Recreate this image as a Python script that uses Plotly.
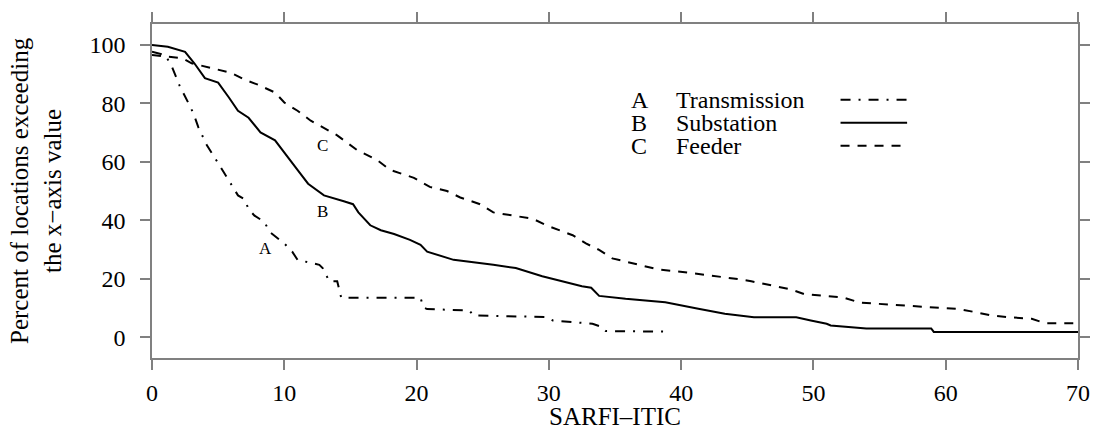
import plotly.graph_objects as go

# SARFI-ITIC exceedance curves for three monitoring levels
trans_x = [0, 1, 1.5, 1.8, 2.1, 2.8, 3.15, 3.5, 4.15, 5, 5.8, 6.5, 7, 7.3, 7.75, 8.5,
           8.9, 10, 10.6, 11, 12.65, 12.9, 13.4, 14, 14.3, 20.3, 20.5, 20.8, 24, 24.3,
           29.8, 30.3, 33.3, 34, 34.3, 38.9]
trans_y = [97.5, 96.4, 92.5, 89, 85.8, 79.6, 76.3, 71.8, 65.6, 59.5, 53.5, 48.5, 47.2,
           43.8, 41.6, 39.4, 36, 32.1, 29.3, 26.5, 24.8, 23.7, 19.2, 19.2, 13.6, 13.6,
           10.3, 9.7, 9.2, 7.5, 7.0, 5.8, 4.7, 3.6, 2.2, 2.0]

subst_x = [0, 1.2, 2.5, 3.2, 4.0, 5.0, 5.8, 6.5, 7.3, 8.2, 9.3, 10, 11, 11.8, 13, 14.5,
           15.2, 15.6, 16.5, 17.3, 18.3, 19.5, 20.3, 20.8, 21.5, 22.8, 25.8, 27.5, 29.5,
           31.0, 32.5, 33.2, 33.8, 35.8, 38.8, 41.3, 43.3, 45.5, 48.7, 49.8, 51.0, 51.3,
           52.8, 54, 58.9, 59.1, 70]
subst_y = [99.8, 99.2, 97.5, 93.6, 88.5, 87, 82, 77.4, 75, 70, 67.3, 63, 57.2, 52.5,
           48.5, 46.5, 45.5, 42.7, 38.3, 36.6, 35.3, 33.3, 31.6, 29.3, 28.3, 26.5, 24.8,
           23.7, 20.9, 19.2, 17.5, 17, 14.2, 13.2, 12, 9.8, 8.1, 6.9, 6.9, 5.8, 4.7, 4.1,
           3.6, 3.1, 3.1, 1.9, 1.9]

feeder_x = [0, 2.3, 3.0, 4.5, 6.0, 7.0, 8.0, 9.3, 10, 11, 12, 14, 15.5, 17, 18, 19.8, 21,
            22.3, 23.3, 24.8, 25.8, 27.3, 28.8, 29.8, 30.8, 31.8, 32.8, 33.8, 34.8, 36.3,
            38.3, 40.8, 42.8, 44.5, 45.3, 47.3, 48.3, 49.3, 52.3, 53.5, 55.3, 58.5, 61,
            62.3, 63.5, 64.8, 66.5, 67.5, 70]
feeder_y = [96.4, 95.3, 93.6, 92, 90.3, 88, 86.3, 83.6, 80.2, 77.4, 74, 69, 64, 60.6,
            57.2, 54.5, 51.4, 50, 47.8, 45.5, 42.7, 41.6, 40.5, 38.3, 36.6, 34.9, 32.1,
            29.9, 27, 25.4, 23.2, 22, 20.9, 19.8, 19.2, 17.5, 16.4, 14.8, 13.6, 11.9, 11.4,
            10.5, 9.7, 8.6, 7.5, 6.9, 6.4, 4.9, 4.9]

series_letters = ["A", "B", "C"]
series_names = ["Transmission", "Substation", "Feeder"]
series_dash = ["10px,8px,2px,8px", "solid", "9px,8px"]
# curve tag positions (x, y) in data units
tag_pos = [(8.57, 30.4), (12.9, 43.0), (12.9, 65.6)]

x_ticks = [0, 10, 20, 30, 40, 50, 60, 70]
y_ticks = [0, 20, 40, 60, 80, 100]

FONT = "Liberation Serif"
W, H = 1102, 432
L, R, T, B = 152, 18, 18, 74
PW, PH = W - L - R, H - T - B

fig = go.Figure()
for xs, ys, dash in zip([trans_x, subst_x, feeder_x], [trans_y, subst_y, feeder_y], series_dash):
    fig.add_trace(go.Scatter(x=xs, y=ys, mode="lines",
                             line=dict(color="black", width=2, dash=dash),
                             showlegend=False, hoverinfo="skip"))

annotations = []
for (tx, ty), letter in zip(tag_pos, series_letters):
    annotations.append(dict(x=tx, y=ty, xref="x", yref="y", text=letter, showarrow=False,
                            font=dict(family=FONT, size=17, color="black")))

# hand-built legend: letter, name, line sample on the right
def px_x(p):
    return (p - L) / PW

def px_y(p):
    return (H - B - p) / PH

shapes = []
row_y = [95, 118.5, 142]
for ry, letter, name, dash in zip(row_y, series_letters, series_names, series_dash):
    annotations.append(dict(x=px_x(632), y=px_y(ry), xref="paper", yref="paper",
                            text=letter, showarrow=False, xanchor="left", yanchor="middle",
                            font=dict(family=FONT, size=24, color="black")))
    annotations.append(dict(x=px_x(677), y=px_y(ry), xref="paper", yref="paper",
                            text=name, showarrow=False, xanchor="left", yanchor="middle",
                            font=dict(family=FONT, size=24, color="black")))
    shapes.append(dict(type="line", xref="paper", yref="paper",
                       x0=px_x(845), x1=px_x(912), y0=px_y(ry), y1=px_y(ry),
                       line=dict(color="black", width=2, dash=dash)))

annotations.append(dict(x=0, y=0.5, xref="paper", yref="paper", xshift=36 - L,
                        text="Percent of locations exceeding<br>the x\u2212axis value",
                        textangle=-90, showarrow=False, xanchor="center", yanchor="middle",
                        font=dict(family=FONT, size=25, color="black")))
annotations.append(dict(x=0.5, y=0, xref="paper", yref="paper", yshift=-58,
                        text="SARFI\u2013ITIC", showarrow=False,
                        xanchor="center", yanchor="middle",
                        font=dict(family=FONT, size=25, color="black")))

axis_common = dict(showgrid=False, zeroline=False, showline=True, linecolor="#808080",
                   linewidth=1.5, mirror="ticks", ticks="outside", ticklen=10,
                   tickwidth=1.5, tickcolor="#808080",
                   tickfont=dict(family=FONT, size=24, color="black"))

fig.update_layout(
    width=W, height=H,
    margin=dict(l=L, r=R, t=T, b=B),
    paper_bgcolor="white", plot_bgcolor="white",
    font=dict(family=FONT),
    xaxis=dict(range=[0, 70], tickvals=x_ticks, ticklabelstandoff=2, **axis_common),
    yaxis=dict(range=[-7, 107], tickvals=y_ticks, ticklabelstandoff=10, **axis_common),
    annotations=annotations, shapes=shapes,
)

fig.write_html("out.html")
